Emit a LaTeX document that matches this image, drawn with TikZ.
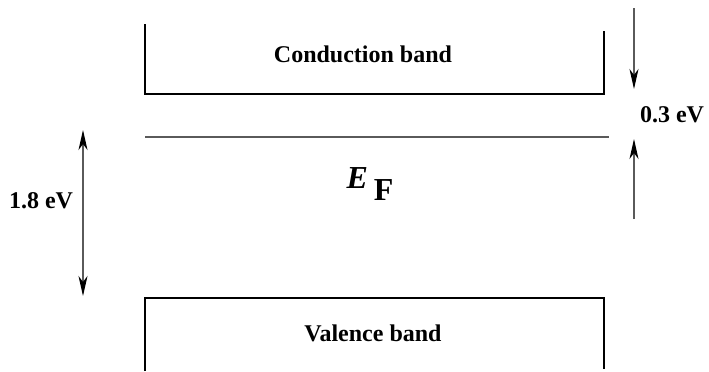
\documentclass[tikz,border=0pt]{standalone}
\usepackage{fontspec}
\setmainfont{Liberation Serif}
\usetikzlibrary{arrows.meta,positioning}
\definecolor{lineGray}{RGB}{90,90,90}
\tikzset{
  band/.style={line width=1.1pt, black},
  level/.style={line width=0.6pt, lineGray},
  gap/.style={line width=0.6pt, lineGray, >={Stealth[black,length=10pt,width=4.5pt,inset=3pt]}},
  lbl/.style={font=\bfseries\fontsize{12}{14}\selectfont, inner sep=0pt}
}
\begin{document}
\begin{tikzpicture}[x=0.5pt,y=-0.5pt]
    \useasboundingbox (0,0) rectangle (709,371);
    % Conduction band
    \draw[band] (145,24) -- (145,94) -- (604,94) -- (604,31);
    \node[lbl] (cb) at (363,54) {Conduction band};
    % Fermi level
    \coordinate (efl) at (145,137);
    \coordinate (efr) at (609,137);
    \draw[level] (efl) -- (efr);
    \node[inner sep=0pt] (ef) at (370,184)
      {\fontsize{16}{17}\selectfont\bfseries\itshape E\hspace{3pt}\raisebox{-6pt}{\upshape F}};
    % Valence band
    \draw[band] (145,371) -- (145,298) -- (604,298) -- (604,369);
    \node[lbl] (vb) at (373,333) {Valence band};
    % Band gap
    \coordinate (gtop) at (83,130);
    \coordinate (gbot) at (83,296);
    \draw[gap,<->] (gtop) -- (gbot);
    \node[lbl] (eg) at (41,201) {1.8 eV};
    % Distance to conduction band
    \coordinate (ctop) at (634,8);
    \coordinate (cend) at (634,89);
    \coordinate (ubot) at (634,219);
    \coordinate (uend) at (634,139);
    \draw[gap,->] (ctop) -- (cend);
    \draw[gap,->] (ubot) -- (uend);
    \node[lbl] (ec) at (672,115) {0.3 eV};
\end{tikzpicture}
\end{document}
